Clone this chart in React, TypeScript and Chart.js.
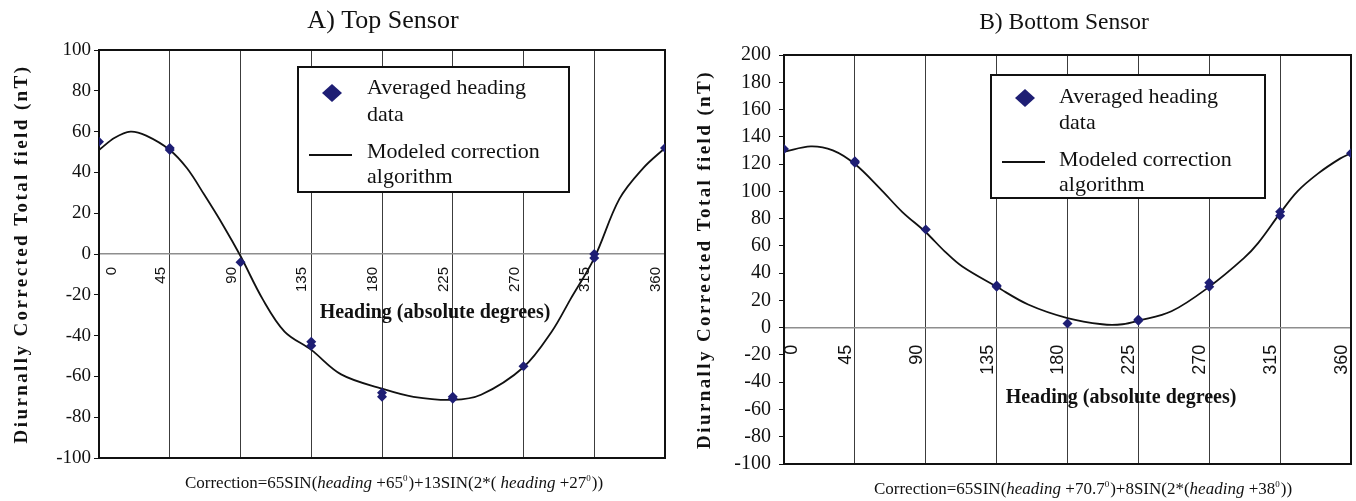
import React, { useEffect, useRef } from 'react';
import { Chart, registerables } from 'chart.js';

Chart.register(...registerables);

// ---------- data ----------
const xTickValues = [0, 45, 90, 135, 180, 225, 270, 315, 360];
const xTickLabels = ['0', '45', '90', '135', '180', '225', '270', '315', '360'];

// A) Top sensor – averaged heading data
const topDataHeading = [0, 45, 45, 90, 135, 135, 180, 180, 225, 225, 270, 315, 315, 360];
const topDataValue = [55, 52, 51, -4, -43, -45, -68, -70, -70, -71, -55, 0, -2, 52];
// A) Top sensor – modeled correction curve
const topModelHeading = [0, 10, 20, 30, 45, 56, 67, 79, 90, 104, 118, 135, 154, 180, 200, 225, 243, 270, 288, 300, 315, 331, 346, 360];
const topModelValue = [51, 57, 60, 58, 51, 42, 29, 14, -1, -22, -38, -47, -59, -66, -70, -71.5, -69, -55.5, -38, -22, -2, 27, 42, 52];

// B) Bottom sensor – averaged heading data
const bottomDataHeading = [0, 45, 45, 90, 135, 135, 180, 225, 225, 270, 270, 315, 315, 360];
const bottomDataValue = [131, 122, 121, 72, 31, 30, 3, 6, 5, 33, 30, 85, 82, 128];
// B) Bottom sensor – modeled correction curve
const bottomModelHeading = [0, 17, 31, 45, 61, 75, 90, 102, 113, 135, 155, 180, 202, 215, 225, 246, 270, 292, 301, 315, 326, 339, 353, 360];
const bottomModelValue = [129, 133, 130, 120, 102, 85, 70, 56, 45, 30, 17, 7, 2.5, 2.5, 5, 12, 30, 51, 62, 84, 100, 113, 124, 128];

const topYRange = [-100, 100];
const bottomYRange = [-100, 200];
const yStep = 20;

const dataLabelLines = ['Averaged heading', 'data'];
const modelLabelLines = ['Modeled correction', 'algorithm'];
const yAxisTitle = 'Diurnally Corrected Total field (nT)';
const xAxisTitle = 'Heading (absolute degrees)';

type Seg = { t: string; s: 'n' | 'i' | 'sup' };
const topFormula: Seg[] = [
  { t: 'Correction=65SIN(', s: 'n' },
  { t: 'heading', s: 'i' },
  { t: ' +65', s: 'n' },
  { t: '0', s: 'sup' },
  { t: ')+13SIN(2*( ', s: 'n' },
  { t: 'heading', s: 'i' },
  { t: ' +27', s: 'n' },
  { t: '0', s: 'sup' },
  { t: '))', s: 'n' },
];
const bottomFormula: Seg[] = [
  { t: 'Correction=65SIN(', s: 'n' },
  { t: 'heading', s: 'i' },
  { t: ' +70.7', s: 'n' },
  { t: '0', s: 'sup' },
  { t: ')+8SIN(2*(', s: 'n' },
  { t: 'heading', s: 'i' },
  { t: ' +38', s: 'n' },
  { t: '0', s: 'sup' },
  { t: '))', s: 'n' },
];

// ---------- styles ----------
const SERIF = "'Liberation Serif', 'Times New Roman', serif";
const SANS = "'Liberation Sans', Arial, sans-serif";
const NAVY = '#1e1e74';
const INK = '#111111';

interface PanelSpec {
  left: number;
  width: number;
  height: number;
  plotLeft: number;
  padRight: number;
  padTop: number;
  padBottom: number;
  yRange: number[];
  yTickFont: number;
  yTickPad: number;
  title: string;
  titleFont: number;
  titleX: number;
  titleY: number;
  yTitleX: number;
  xTickFont: number;
  xTickPad: number;
  xLabelOffset: number;
  xFirstShift: number;
  xTitleX: number;
  xTitleY: number;
  legend: {
    x: number; y: number; w: number; h: number;
    dx: number; dy: number; tx: number; ys: number[];
    lx1: number; lx2: number; ly: number; font: number;
  };
  formula: Seg[];
  formulaX: number;
  formulaY: number;
  formulaFont: number;
  dataH: number[];
  dataV: number[];
  modelH: number[];
  modelV: number[];
}

const panels: PanelSpec[] = [
  {
    left: 0, width: 680, height: 501,
    plotLeft: 99, padRight: 15, padTop: 50, padBottom: 43,
    yRange: topYRange, yTickFont: 19, yTickPad: 3,
    title: 'A) Top Sensor', titleFont: 26, titleX: 383, titleY: 21,
    yTitleX: 22,
    xTickFont: 15, xTickPad: 13, xLabelOffset: -9, xFirstShift: 22,
    xTitleX: 435, xTitleY: 313,
    legend: { x: 298, y: 67, w: 271, h: 125, dx: 332, dy: 93, tx: 367, ys: [88, 115, 152, 177], lx1: 309, lx2: 352, ly: 155, font: 22 },
    formula: topFormula, formulaX: 394, formulaY: 483, formulaFont: 17,
    dataH: topDataHeading, dataV: topDataValue, modelH: topModelHeading, modelV: topModelValue,
  },
  {
    left: 676, width: 680, height: 501,
    plotLeft: 108, padRight: 2, padTop: 55, padBottom: 37,
    yRange: bottomYRange, yTickFont: 20, yTickPad: 8,
    title: 'B) Bottom Sensor', titleFont: 23.5, titleX: 388, titleY: 23,
    yTitleX: 29,
    xTickFont: 18, xTickPad: 17, xLabelOffset: -9, xFirstShift: 17,
    xTitleX: 445, xTitleY: 398,
    legend: { x: 315, y: 75, w: 274, h: 123, dx: 349, dy: 98, tx: 383, ys: [97, 123, 160, 185], lx1: 326, lx2: 369, ly: 162, font: 22 },
    formula: bottomFormula, formulaX: 407, formulaY: 489, formulaFont: 17,
    dataH: bottomDataHeading, dataV: bottomDataValue, modelH: bottomModelHeading, modelV: bottomModelValue,
  },
];

function drawFormula(ctx: CanvasRenderingContext2D, segs: Seg[], cx: number, cy: number, size: number) {
  const fontFor = (s: string) =>
    s === 'i' ? `italic ${size}px ${SERIF}` : s === 'sup' ? `${Math.round(size * 0.5)}px ${SERIF}` : `${size}px ${SERIF}`;
  let total = 0;
  const widths = segs.map((seg) => {
    ctx.font = fontFor(seg.s);
    const w = ctx.measureText(seg.t).width + (seg.s === 'sup' ? 1 : 0);
    total += w;
    return w;
  });
  let x = cx - total / 2;
  const base = cy + size * 0.32;
  ctx.textAlign = 'left';
  ctx.textBaseline = 'alphabetic';
  ctx.fillStyle = INK;
  segs.forEach((seg, i) => {
    ctx.font = fontFor(seg.s);
    ctx.fillText(seg.t, x, seg.s === 'sup' ? base - size * 0.45 : base);
    x += widths[i];
  });
}

function makePlugin(p: PanelSpec) {
  return {
    id: 'panelDecor',
    beforeDraw(chart: any) {
      const { ctx } = chart;
      ctx.save();
      ctx.fillStyle = '#ffffff';
      ctx.fillRect(0, 0, chart.width, chart.height);
      ctx.restore();
      // shift the first heading label inside the plot, as in the original
      const xs = chart.scales.x;
      const items = xs.getLabelItems();
      if (items && items.length && !items[0].__shifted) {
        const tr = items[0].options.translation;
        items[0].options.translation = [tr[0] + p.xFirstShift, tr[1]];
        items[0].__shifted = true;
      }
    },
    beforeDatasetsDraw(chart: any) {
      const { ctx, chartArea: a } = chart;
      ctx.save();
      ctx.strokeStyle = INK;
      ctx.lineWidth = 2;
      ctx.strokeRect(a.left, a.top, a.right - a.left, a.bottom - a.top);
      ctx.restore();
    },
    afterDatasetsDraw(chart: any) {
      const { ctx, chartArea: a } = chart;
      ctx.save();
      // panel title
      ctx.fillStyle = INK;
      ctx.font = `${p.titleFont}px ${SERIF}`;
      ctx.textAlign = 'center';
      ctx.textBaseline = 'middle';
      ctx.fillText(p.title, p.titleX, p.titleY);

      // y axis title (rotated, letter spaced)
      ctx.save();
      ctx.translate(p.yTitleX, (a.top + a.bottom) / 2);
      ctx.rotate(-Math.PI / 2);
      ctx.font = `bold 19px ${SERIF}`;
      (ctx as any).letterSpacing = '2.4px';
      ctx.textAlign = 'center';
      ctx.textBaseline = 'middle';
      ctx.fillText(yAxisTitle, 0, 0);
      ctx.restore();

      // x axis title
      ctx.font = `bold 20px ${SERIF}`;
      ctx.textAlign = 'center';
      ctx.textBaseline = 'middle';
      ctx.fillStyle = INK;
      ctx.fillText(xAxisTitle, p.xTitleX, p.xTitleY);

      // legend
      const L = p.legend;
      ctx.fillStyle = '#ffffff';
      ctx.fillRect(L.x, L.y, L.w, L.h);
      ctx.strokeStyle = INK;
      ctx.lineWidth = 2;
      ctx.strokeRect(L.x, L.y, L.w, L.h);
      ctx.fillStyle = NAVY;
      ctx.beginPath();
      ctx.moveTo(L.dx, L.dy - 9);
      ctx.lineTo(L.dx + 10, L.dy);
      ctx.lineTo(L.dx, L.dy + 9);
      ctx.lineTo(L.dx - 10, L.dy);
      ctx.closePath();
      ctx.fill();
      ctx.strokeStyle = INK;
      ctx.lineWidth = 1.8;
      ctx.beginPath();
      ctx.moveTo(L.lx1, L.ly);
      ctx.lineTo(L.lx2, L.ly);
      ctx.stroke();
      ctx.fillStyle = INK;
      ctx.font = `${L.font}px ${SERIF}`;
      ctx.textAlign = 'left';
      ctx.textBaseline = 'middle';
      const lines = [...dataLabelLines, ...modelLabelLines];
      lines.forEach((t, i) => ctx.fillText(t, L.tx, L.ys[i]));

      // formula
      drawFormula(ctx, p.formula, p.formulaX, p.formulaY, p.formulaFont);
      ctx.restore();
    },
  };
}

function Panel({ spec }: { spec: PanelSpec }) {
  const ref = useRef<HTMLCanvasElement | null>(null);
  useEffect(() => {
    const canvas = ref.current;
    if (!canvas) return;
    const p = spec;
    const chart = new Chart(canvas, {
      type: 'scatter',
      data: {
        datasets: [
          {
            label: dataLabelLines.join(' '),
            data: p.dataH.map((h, i) => ({ x: h, y: p.dataV[i] })),
            pointStyle: 'rectRot',
            pointRadius: 5,
            pointHoverRadius: 5,
            backgroundColor: NAVY,
            borderColor: NAVY,
            borderWidth: 0,
            showLine: false,
            order: 1,
          },
          {
            label: modelLabelLines.join(' '),
            data: p.modelH.map((h, i) => ({ x: h, y: p.modelV[i] })),
            showLine: true,
            borderColor: INK,
            borderWidth: 1.8,
            pointRadius: 0,
            pointHoverRadius: 0,
            tension: 0.35,
            fill: false,
            order: 2,
          },
        ],
      },
      options: {
        responsive: false,
        animation: false,
        events: [],
        layout: { padding: { left: 0, right: p.padRight, top: p.padTop, bottom: p.padBottom } },
        plugins: {
          legend: { display: false },
          title: { display: false },
          tooltip: { enabled: false },
        },
        scales: {
          x: {
            type: 'linear',
            position: { y: 0 } as any,
            min: xTickValues[0],
            max: xTickValues[xTickValues.length - 1],
            afterBuildTicks: (s: any) => {
              s.ticks = xTickValues.map((v) => ({ value: v }));
            },
            afterFit: (s: any) => {
              s.paddingLeft = 0;
              s.paddingRight = 0;
            },
            grid: { color: '#3c3c3c', lineWidth: 1, drawTicks: false },
            border: { color: '#8e8e8e', width: 1.5 },
            ticks: {
              autoSkip: false,
              maxRotation: 90,
              minRotation: 90,
              padding: p.xTickPad,
              labelOffset: p.xLabelOffset,
              color: INK,
              font: { family: SANS, size: p.xTickFont },
              callback: (_v: any, i: number) => xTickLabels[i],
            },
          },
          y: {
            type: 'linear',
            position: 'left',
            min: p.yRange[0],
            max: p.yRange[1],
            afterFit: (s: any) => {
              s.width = p.plotLeft;
            },
            grid: { drawOnChartArea: false, drawTicks: true, tickLength: 5, color: INK, lineWidth: 1 },
            border: { color: INK, width: 2 },
            ticks: {
              stepSize: yStep,
              padding: p.yTickPad,
              color: INK,
              font: { family: SERIF, size: p.yTickFont },
            },
          },
        },
      },
      plugins: [makePlugin(p)],
    } as any);
    return () => chart.destroy();
  }, [spec]);
  return (
    <canvas
      ref={ref}
      width={spec.width}
      height={spec.height}
      style={{ position: 'absolute', left: spec.left, top: 0, width: spec.width, height: spec.height }}
    />
  );
}

export default function App() {
  return (
    <div
      style={{
        position: 'fixed',
        left: 0,
        top: 0,
        width: 1356,
        height: 501,
        background: '#ffffff',
        overflow: 'hidden',
      }}
    >
      {panels.map((p, i) => (
        <Panel key={i} spec={p} />
      ))}
    </div>
  );
}
